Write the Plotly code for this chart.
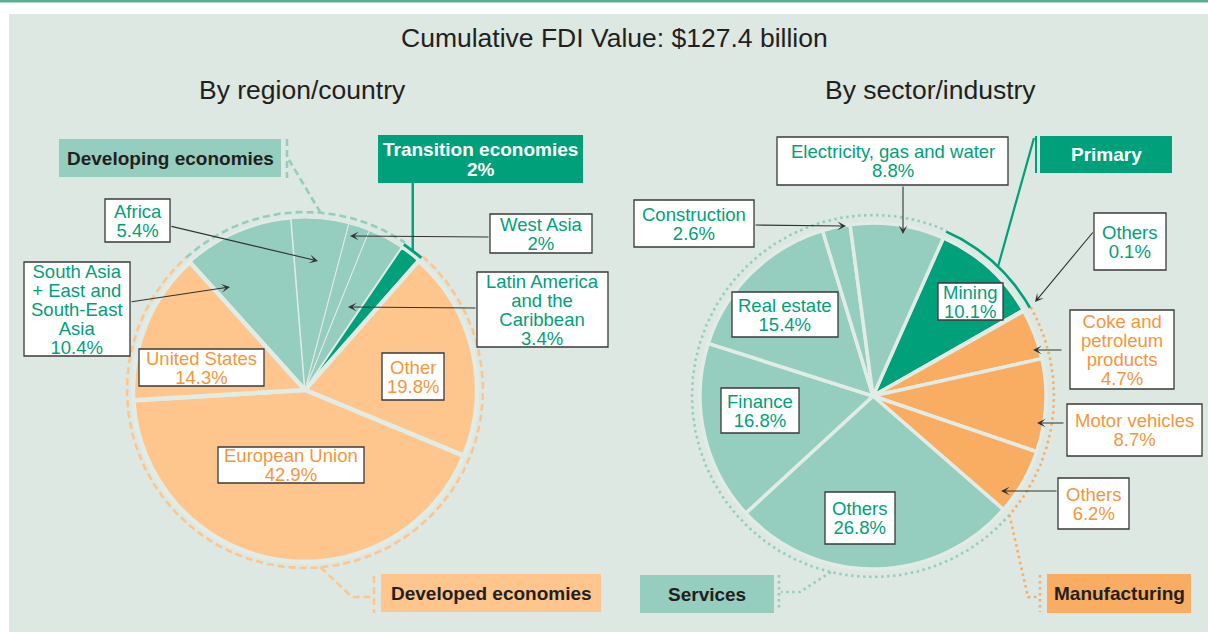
import numpy as np
import plotly.graph_objects as go

W, H = 1208, 632

# ---------------- data ----------------
chart_title = "Cumulative FDI Value: $127.4 billion"
left_title = "By region/country"
right_title = "By sector/industry"

region_lines = [
    ["South Asia", "+ East and", "South-East", "Asia"],
    ["Africa"],
    ["West Asia"],
    ["Latin America", "and the", "Caribbean"],
    ["Transition economies"],
    ["Other"],
    ["European Union"],
    ["United States"],
]
region_values = [10.4, 5.4, 2.0, 3.4, 2.0, 19.8, 42.9, 14.3]
region_groups = ["Developing", "Developing", "Developing", "Developing",
                 "Transition", "Developed", "Developed", "Developed"]

sector_lines = [
    ["Mining"],
    ["Others"],
    ["Coke and", "petroleum", "products"],
    ["Motor vehicles"],
    ["Others"],
    ["Others"],
    ["Finance"],
    ["Real estate"],
    ["Construction"],
    ["Electricity, gas and water"],
]
sector_values = [10.1, 0.1, 4.7, 8.7, 6.2, 26.8, 16.8, 15.4, 2.6, 8.8]
sector_groups = ["Primary", "Primary", "Manufacturing", "Manufacturing", "Manufacturing",
                 "Services", "Services", "Services", "Services", "Services"]

group_titles = {"Developing": "Developing economies", "Transition": "Transition economies",
                "Developed": "Developed economies", "Primary": "Primary",
                "Services": "Services", "Manufacturing": "Manufacturing"}

# ---------------- style / layout ----------------
BG = "#DCE8E1"
TEAL = "#95CDBE"
DKG = "#00A07A"
LOR = "#FEC58C"
ORG = "#F9AD62"
TXT_G = "#00A07A"
TXT_O = "#F6953A"
INK = "#231F20"
FONT = "Liberation Sans"
LBL_SIZE = 18.5
LBL_PITCH = 19.0

fill_of = {"Developing": TEAL, "Transition": DKG, "Developed": LOR,
           "Primary": DKG, "Services": TEAL, "Manufacturing": ORG}
txt_of = {"Developing": TXT_G, "Transition": TXT_G, "Developed": TXT_O,
          "Primary": TXT_G, "Services": TXT_G, "Manufacturing": TXT_O}

LP = dict(cx=305, cy=390, r=172, rot=-42)
RP = dict(cx=873, cy=396, r=173, rot=24)

region_boxes = {0: (24, 130, 262, 356), 1: (105, 170, 199, 242), 2: (490, 592, 214, 253),
                3: (477, 608, 272, 347), 5: (382, 444, 353, 400), 6: (218, 364, 447, 483),
                7: (139, 264, 349, 386)}
region_arrows = {0: ((130, 302), (230, 287)), 1: ((170, 226), (318, 261)),
                 2: ((490, 237), (350, 236)), 3: ((477, 308), (348, 307))}
sector_boxes = {0: (938, 1003, 283, 320), 1: (1094, 1166, 213, 270), 2: (1070, 1174, 310, 389),
                3: (1067, 1202, 404, 456), 4: (1058, 1129, 478, 529), 5: (825, 895, 492, 544),
                6: (721, 799, 388, 433), 7: (732, 838, 292, 337), 8: (634, 754, 200, 247),
                9: (777, 1008, 137, 185)}
sector_arrows = {1: ((1094, 231), (1035, 302)), 2: ((1063, 350), (1033, 350)),
                 3: ((1065, 423), (1037, 423)), 4: ((1058, 491), (1001, 491)),
                 8: ((754, 225), (846, 226)), 9: ((903, 185), (903, 234))}
group_boxes = {"Developing": (59, 281, 139, 177), "Transition": (378, 583, 135, 183),
               "Developed": (381, 601, 574, 612), "Primary": (1040, 1172, 136, 173),
               "Services": (640, 774, 575, 613), "Manufacturing": (1047, 1191, 574, 613)}


def domain(g):
    return dict(x=[(g["cx"] - g["r"]) / W, (g["cx"] + g["r"]) / W],
                y=[1 - (g["cy"] + g["r"]) / H, 1 - (g["cy"] - g["r"]) / H])


def slice_angles(values, rot):
    v = np.asarray(values, float)
    edges = rot + 360.0 * np.concatenate([[0.0], np.cumsum(v)]) / v.sum()
    return edges[:-1], edges[1:]


def group_span(groups, starts, ends, name):
    idx = [i for i, g in enumerate(groups) if g == name]
    return starts[idx[0]], ends[idx[-1]]


def polar(g, rad, ang):
    a = np.radians(ang)
    return g["cx"] + rad * np.sin(a), g["cy"] - rad * np.cos(a)


def arc(g, rad, a0, a1):
    a = np.linspace(a0, a1, max(int(abs(a1 - a0) * 2), 2))
    return polar(g, rad, a)


fig = go.Figure()
shapes = []
annotations = []

# background panel
shapes.append(dict(type="rect", xref="x", yref="y", x0=9, x1=W, y0=14, y1=H,
                   fillcolor=BG, line=dict(width=0), layer="below"))
shapes.append(dict(type="rect", xref="x", yref="y", x0=0, x1=W, y0=0, y1=2.5,
                   fillcolor="#5AAE8F", line=dict(width=0), layer="below"))

# pies
fig.add_trace(go.Pie(
    values=region_values, labels=[" ".join(l) for l in region_lines],
    sort=False, direction="clockwise", rotation=LP["rot"], domain=domain(LP),
    marker=dict(colors=[fill_of[g] for g in region_groups],
                line=dict(color="#E2ECE6", width=[2, 1, 1, 1, 2, 4.5, 4.5, 4.5])),
    textinfo="none", hoverinfo="skip", showlegend=False))
fig.add_trace(go.Pie(
    values=sector_values, labels=[f"{g}: {' '.join(l)}" for g, l in zip(sector_groups, sector_lines)],
    sort=False, direction="clockwise", rotation=RP["rot"], domain=domain(RP),
    marker=dict(colors=[fill_of[g] for g in sector_groups],
                line=dict(color="#E2ECE6", width=3.5)),
    textinfo="none", hoverinfo="skip", showlegend=False))


def line_trace(xs, ys, color, width, dash="solid"):
    fig.add_trace(go.Scatter(x=list(xs), y=list(ys), mode="lines",
                             line=dict(color=color, width=width, dash=dash),
                             hoverinfo="skip", showlegend=False))


DASH = "7px,4px"
DOT = "2.5px,3.5px"

# left pie outline arcs
ls, le = slice_angles(region_values, LP["rot"])
d0, d1 = group_span(region_groups, ls, le, "Developing")
t0, t1 = group_span(region_groups, ls, le, "Transition")
v0, v1 = group_span(region_groups, ls, le, "Developed")
line_trace(*arc(LP, LP["r"] + 6, d0, d1), TEAL, 2.6, DASH)
line_trace(*arc(LP, LP["r"] + 4, t0, t1), DKG, 3)
line_trace(*arc(LP, LP["r"] + 6, v0, v1), LOR, 2.6, DASH)
# connectors (left)
px, py = polar(LP, LP["r"] + 6, 5)
line_trace([px, 289], [py, 160], TEAL, 2.6, DASH)
line_trace([287, 287], [139, 178], TEAL, 2.6, DASH)
tx, ty = polar(LP, LP["r"] + 4, (t0 + t1) / 2)
line_trace([tx, tx], [ty, group_boxes["Transition"][3]], DKG, 2.5)
px, py = polar(LP, LP["r"] + 6, 175)
line_trace([px, 352, 372], [py, 597, 597], LOR, 2.6, DASH)
line_trace([374, 374], [576, 613], LOR, 2.6, DASH)

# right pie outline arcs
rs, rend = slice_angles(sector_values, RP["rot"])
p0, p1 = group_span(sector_groups, rs, rend, "Primary")
m0, m1 = group_span(sector_groups, rs, rend, "Manufacturing")
s0, s1 = group_span(sector_groups, rs, rend, "Services")
line_trace(*arc(RP, RP["r"] + 8, s0, s1), TEAL, 2.6, DOT)
line_trace(*arc(RP, RP["r"] + 8, m0, m1), ORG, 2.6, DOT)
line_trace(*arc(RP, RP["r"] + 7, p0, p1), DKG, 2.6)
# connectors (right)
px, py = polar(RP, RP["r"] + 7, 44)
line_trace([px, 1034], [py, 138], DKG, 2.2)
line_trace([1036, 1036], [136, 173], DKG, 2)
px, py = polar(RP, RP["r"] + 8, 193.5)
line_trace([px, 800, 781], [py, 592, 592], TEAL, 2.6, DOT)
line_trace([779, 779], [575, 611], TEAL, 2.6, DOT)
px, py = polar(RP, RP["r"] + 8, m1)
line_trace([px, 1028, 1037], [py, 597, 597], ORG, 2.6, DOT)
line_trace([1040, 1040], [575, 612], ORG, 2.6, DOT)


def rect(box, fill, border=None, lw=1.3):
    x0, x1, y0, y1 = box
    shapes.append(dict(type="rect", xref="x", yref="y", x0=x0, x1=x1, y0=y0, y1=y1,
                       fillcolor=fill,
                       line=dict(color=border if border else fill, width=lw if border else 0),
                       layer="above"))


def text_block(box, lines, color, size, bold=False, pitch=LBL_PITCH):
    """One annotation per box; line pitch set via a small base font size
    (line spacing = 1.3 * base) with the glyphs sized inside spans."""
    x0, x1, y0, y1 = box
    cx, cy = (x0 + x1) / 2, (y0 + y1) / 2
    n = len(lines)
    base = pitch / 1.3
    parts = []
    for t in lines:
        t = f"<b>{t}</b>" if bold else t
        parts.append(f"<span style='font-size:{size}px'>{t}</span>")
    annotations.append(dict(x=cx, y=cy, xref="x", yref="y", text="<br>".join(parts),
                            showarrow=False, align="center",
                            font=dict(family=FONT, size=base if n > 1 else size, color=color),
                            xanchor="center", yanchor="middle", borderpad=0))


def arrow(tail, head):
    annotations.append(dict(x=head[0], y=head[1], ax=tail[0], ay=tail[1],
                            xref="x", yref="y", axref="x", ayref="y", text="",
                            showarrow=True, arrowhead=3, arrowsize=1.3, arrowwidth=1.1,
                            arrowcolor="#333333", standoff=0, startstandoff=0))


def pct(v):
    return f"{v:g}%"


for i, box in region_boxes.items():
    rect(box, "white", "#3A3A3A")
    text_block(box, region_lines[i] + [pct(region_values[i])], txt_of[region_groups[i]], LBL_SIZE)
for i, (t, h) in region_arrows.items():
    arrow(t, h)
for i, box in sector_boxes.items():
    rect(box, "white", "#3A3A3A")
    text_block(box, sector_lines[i] + [pct(sector_values[i])], txt_of[sector_groups[i]], LBL_SIZE)
for i, (t, h) in sector_arrows.items():
    arrow(t, h)

# group boxes
for g, box in group_boxes.items():
    rect(box, fill_of[g])
    if g == "Transition":
        tv = sum(v for v, gg in zip(region_values, region_groups) if gg == g)
        text_block(box, [group_titles[g], pct(tv)], "white", 19, bold=True, pitch=19.5)
    else:
        text_block(box, [group_titles[g]], "white" if g == "Primary" else INK, 19, bold=True)

# titles
for txt, x, y in [(chart_title, 614, 38), (left_title, 302, 90), (right_title, 930, 90)]:
    annotations.append(dict(x=x, y=y, xref="x", yref="y", text=txt, showarrow=False,
                            font=dict(family=FONT, size=26.5, color=INK),
                            xanchor="center", yanchor="middle"))

fig.update_layout(
    width=W, height=H, margin=dict(l=0, r=0, t=0, b=0),
    paper_bgcolor="white", plot_bgcolor="rgba(0,0,0,0)",
    xaxis=dict(range=[0, W], visible=False, fixedrange=True),
    yaxis=dict(range=[H, 0], visible=False, fixedrange=True),
    shapes=shapes, annotations=annotations, showlegend=False,
)

fig.write_html("out.html", config={"displayModeBar": False},
               post_script="document.body.style.margin='0';")
